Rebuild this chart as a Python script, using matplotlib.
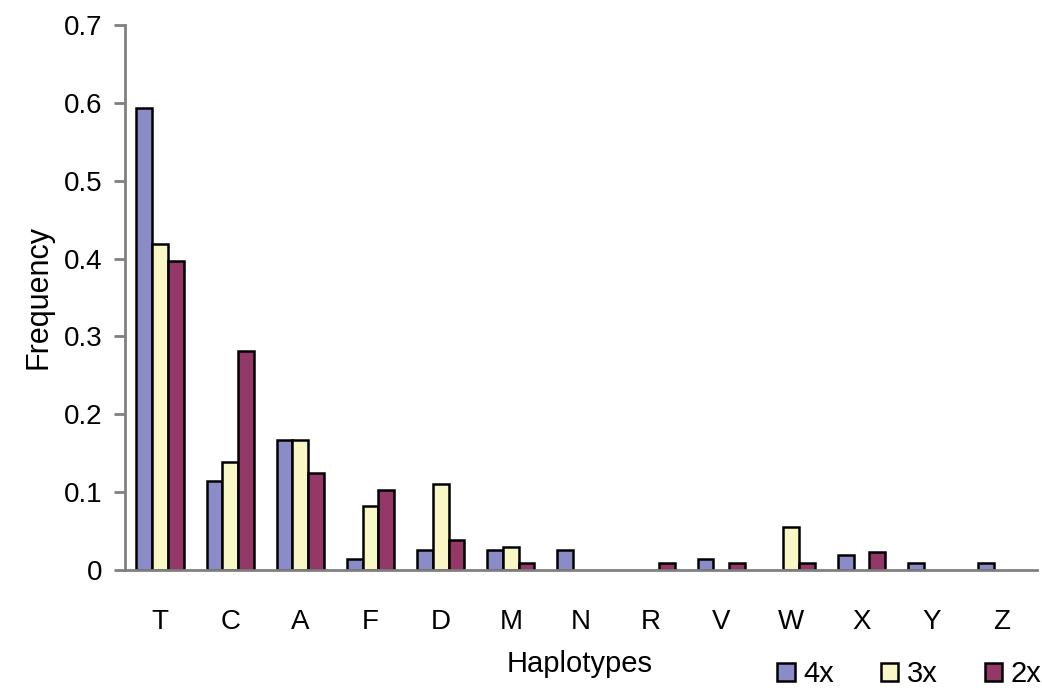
import matplotlib
matplotlib.use("Agg")
from matplotlib import pyplot as plt
import numpy as np

haplotypes = ['T', 'C', 'A', 'F', 'D', 'M', 'N', 'R', 'V', 'W', 'X', 'Y', 'Z']
freq_4x = [0.594, 0.114, 0.167, 0.014, 0.025, 0.026, 0.026, 0.0, 0.014, 0.0, 0.019, 0.009, 0.009]
freq_3x = [0.419, 0.139, 0.167, 0.082, 0.110, 0.029, 0.0, 0.0, 0.0, 0.055, 0.0, 0.0, 0.0]
freq_2x = [0.397, 0.281, 0.125, 0.103, 0.039, 0.009, 0.0, 0.009, 0.009, 0.009, 0.023, 0.0, 0.0]
series = ['4x', '3x', '2x']
colors = ['#8b8bc8', '#faf7c6', '#943868']

plt.rcParams['font.family'] = ['Liberation Sans', 'DejaVu Sans']

fig = plt.figure(figsize=(10.42, 6.95), dpi=100)
ax = fig.add_axes([0.12, 0.18, 0.875, 0.784])

x = np.arange(len(haplotypes))
w = 0.225
for i, (vals, name, c) in enumerate(zip([freq_4x, freq_3x, freq_2x], series, colors)):
    v = np.array(vals)
    m = v > 0
    ax.bar(x[m] + (i - 1) * w, v[m], width=w, color=c, edgecolor='black',
           linewidth=1.8, label=name)

ax.set_xlim(-0.5, len(haplotypes) - 0.5)
ax.set_ylim(0, 0.7)
ax.set_yticks(np.arange(0, 0.71, 0.1))
ax.set_yticklabels(['0', '0.1', '0.2', '0.3', '0.4', '0.5', '0.6', '0.7'])
ax.set_xticks(x)
ax.set_xticklabels(haplotypes)

for s in ['top', 'right']:
    ax.spines[s].set_visible(False)
for s in ['left', 'bottom']:
    ax.spines[s].set_color('#808080')
    ax.spines[s].set_linewidth(2)
ax.tick_params(axis='y', length=8, width=2, color='#808080', labelsize=20, pad=8)
ax.tick_params(axis='x', length=0, labelsize=20, pad=28)

ax.set_ylabel('Frequency', fontsize=22, labelpad=8)
fig.text(0.556, 0.045, 'Haplotypes', fontsize=21, ha='center', va='center')

fig.legend(loc='lower right', bbox_to_anchor=(1.025, -0.028), ncol=3, frameon=False,
           fontsize=21, handlelength=0.6, handleheight=0.6, handletextpad=0.3,
           columnspacing=1.6)

fig.savefig('out.png', dpi=100)
